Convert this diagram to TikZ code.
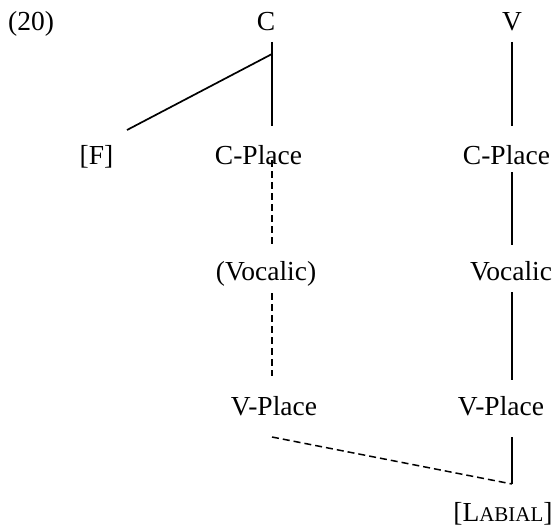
\documentclass[tikz,border=0pt]{standalone}
\usepackage{fontspec}
\setmainfont{Liberation Serif}
\begin{document}
\begin{tikzpicture}[x=1pt,y=-1pt,
  lbl/.style={inner sep=0pt,anchor=base,font=\fontsize{27.5}{32}\selectfont},
  solidline/.style={line width=1.7pt},
  dashline/.style={line width=1.5pt,dash pattern=on 7pt off 4pt}]
\useasboundingbox (0,0) rectangle (556,527);
\node[lbl,anchor=base west] (ex) at (8,31) {(20)};
\node[lbl] (C) at (266,31) {C};
\node[lbl] (V) at (512,31) {V};
\node[lbl] (F) at (96.5,164) {[F]};
\node[lbl] (cpl) at (258.5,164) {C-Place};
\node[lbl] (cpr) at (506.5,164) {C-Place};
\node[lbl] (vocl) at (266,280) {(Vocalic)};
\node[lbl] (vocr) at (511,280) {Vocalic};
\node[lbl] (vpl) at (274,415) {V-Place};
\node[lbl] (vpr) at (501,415) {V-Place};
\node[lbl] (lab) at (503,521) {[L{\fontsize{21}{24}\selectfont ABIAL}]};
% connector end points
\coordinate (c1) at (272,42);
\coordinate (c2) at (272,126);
\coordinate (c3) at (272,54);
\coordinate (f1) at (127,130);
\coordinate (d1) at (272,160);
\coordinate (d2) at (272,245);
\coordinate (d3) at (272,293);
\coordinate (d4) at (272,376);
\coordinate (v1) at (512,42);
\coordinate (v2) at (512,126);
\coordinate (r1) at (512,172);
\coordinate (r2) at (512,245);
\coordinate (r3) at (512,292);
\coordinate (r4) at (512,380);
\coordinate (r5) at (512,437);
\coordinate (r6) at (512,484);
\coordinate (l1) at (272,437);
\draw[solidline] (c1) -- (c2);
\draw[solidline] (c3) -- (f1);
\draw[dashline] (d1) -- (d2);
\draw[dashline] (d3) -- (d4);
\draw[solidline] (v1) -- (v2);
\draw[solidline] (r1) -- (r2);
\draw[solidline] (r3) -- (r4);
\draw[solidline] (r5) -- (r6);
\draw[dashline] (l1) -- (r6);
\end{tikzpicture}
\end{document}
